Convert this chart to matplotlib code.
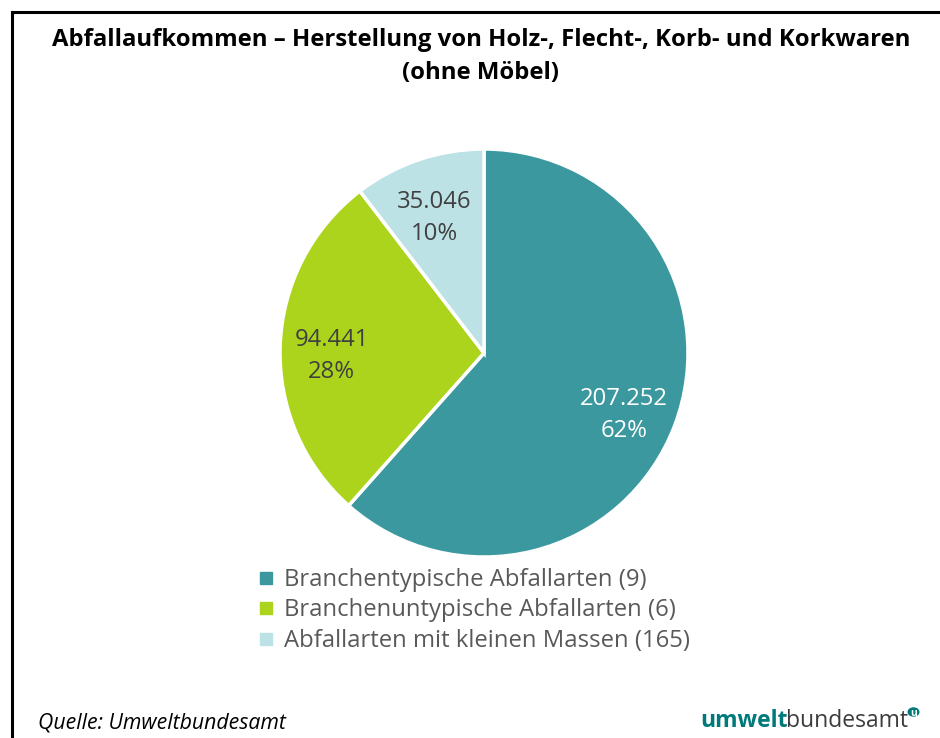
import numpy as np
import matplotlib.pyplot as plt
from matplotlib.lines import Line2D
from matplotlib.patches import Circle

# Abfallmengen (t)
categories = ['Branchentypische Abfallarten (9)',
              'Branchenuntypische Abfallarten (6)',
              'Abfallarten mit kleinen Massen (165)']
values = [207252, 94441, 35046]
value_labels = ['207.252', '94.441', '35.046']
colors = ['#3b989f', '#acd41c', '#bde2e6']
label_colors = ['white', '#404040', '#404040']

plt.rcParams['font.family'] = ['Open Sans', 'DejaVu Sans']

fig = plt.figure(figsize=(9.4, 7.38), dpi=100)
W, H = 940, 738

cx, cy, r = 484, 353, 204
ax = fig.add_axes([(cx - r) / W, (H - cy - r) / H, 2 * r / W, 2 * r / H])

total = sum(values)
wedges, _ = ax.pie(values, colors=colors, startangle=90, counterclock=False,
                   wedgeprops=dict(edgecolor='white', linewidth=2.5))
for w, v, vl, lc in zip(wedges, values, value_labels, label_colors):
    ang = np.deg2rad((w.theta1 + w.theta2) / 2)
    pct = f"{round(v / total * 100)}%"
    ax.annotate(f"{vl}\n{pct}", (0.74 * np.cos(ang), 0.74 * np.sin(ang)),
                xytext=(-1, -6), textcoords='offset points',
                ha='center', va='center', fontsize=17.2, color=lc, linespacing=1.45)
ax.set_xlim(-1, 1)
ax.set_ylim(-1, 1)
ax.set_aspect('auto')
ax.axis('off')

fig.text(481 / W, 1 - 40 / H, 'Abfallaufkommen – Herstellung von Holz-, Flecht-, Korb- und Korkwaren',
         ha='center', va='center', fontsize=17.2, fontweight='bold', color='black')
fig.text(481 / W, 1 - 73 / H, '(ohne Möbel)',
         ha='center', va='center', fontsize=17.2, fontweight='bold', color='black')

handles = [Line2D([], [], marker='s', linestyle='none', markersize=8.5,
                  markerfacecolor=c, markeredgecolor=c) for c in colors]
leg = fig.legend(handles, categories, loc='upper left',
                 bbox_to_anchor=(259 / W, 1 - 568 / H), frameon=False,
                 fontsize=17.2, handlelength=0.6, handletextpad=0.45,
                 labelspacing=0.27, borderpad=0, borderaxespad=0)
for t in leg.get_texts():
    t.set_color('#595959')

fig.text(38 / W, 1 - 723 / H, 'Quelle: Umweltbundesamt', ha='left', va='center',
         fontsize=15.3, style='italic', color='black')

# Logo
t1 = fig.text(700 / W, 1 - 727 / H, 'umwelt', ha='left', va='baseline',
              fontsize=16.5, fontweight='bold', color='#00797b')
fig.canvas.draw()
bb = t1.get_window_extent()
t2 = fig.text((bb.x1 - 2) / W, 1 - 727 / H, 'bundesamt', ha='left', va='baseline',
              fontsize=16.5, color='#3c3c3c')
fig.canvas.draw()
bb2 = t2.get_window_extent()
circ = Circle(((bb2.x1 + 6) / W, (H - 712) / H), 6 / W, transform=fig.transFigure,
              facecolor='#00797b', edgecolor='none')
fig.patches.append(circ)
fig.text((bb2.x1 + 6) / W, (H - 713) / H, 'u', ha='center', va='center',
         fontsize=7.5, fontweight='bold', color='white')

# Rahmen links und oben
fig.add_artist(Line2D([12 / W, 12 / W], [0, 1 - 12 / H], color='black', linewidth=2.2,
                      transform=fig.transFigure))
fig.add_artist(Line2D([12 / W, 1], [1 - 12 / H, 1 - 12 / H], color='black', linewidth=2.2,
                      transform=fig.transFigure))

fig.savefig('out.png', dpi=100, facecolor='white')
